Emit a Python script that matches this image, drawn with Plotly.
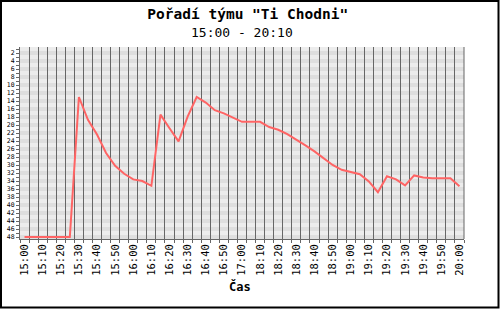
import plotly.graph_objects as go

times = ["15:00","15:05","15:10","15:15","15:20","15:25","15:30","15:35","15:40","15:45",
         "15:50","15:55","16:00","16:05","16:10","16:15","16:20","16:25","16:30","16:35",
         "16:40","16:45","16:50","16:55","17:00","18:05","18:10","18:15","18:20","18:25",
         "18:30","18:35","18:40","18:45","18:50","18:55","19:00","19:05","19:10","19:15",
         "19:20","19:25","19:30","19:35","19:40","19:45","19:50","19:55","20:00"]

rank = [48.0, 48.0, 48.0, 48.0, 48.0, 48.0, 13.0, 18.7, 22.4, 27.0,
        30.2, 32.2, 33.6, 34.0, 35.2, 17.4, 20.8, 24.1, 17.9, 13.0,
        14.4, 16.3, 17.1, 18.2, 19.2, 19.2, 19.2, 20.5, 21.2, 22.3,
        23.6, 25.1, 26.6, 28.2, 30.0, 31.2, 31.8, 32.3, 34.1, 36.8,
        32.8, 33.6, 35.1, 32.6, 33.1, 33.3, 33.3, 33.3, 35.3]

rank_ticks = list(range(1, 49))

title_text = 'Pořadí týmu "Ti Chodni"'
subtitle_text = "15:00 - 20:10"
x_title = "Čas"

W, H = 500, 309
ML, MR, MT, MB = 20, 36, 47, 70
PW, PH = W - ML - MR, H - MT - MB

MONO = "DejaVu Sans Mono"

fig = go.Figure()
fig.add_trace(go.Scatter(
    x=times, y=rank, mode="lines",
    line=dict(color="#ff6464", width=2),
    hoverinfo="skip", showlegend=False,
))

shapes = []
for r in rank_ticks:
    shapes.append(dict(
        type="rect", xref="paper", yref="y", x0=0, x1=1,
        y0=r - 0.5, y1=r + 0.5, layer="below", line=dict(width=0),
        fillcolor="#ececec" if r % 2 else "#dedede",
    ))
# right edge of plot
shapes.append(dict(type="line", xref="paper", yref="paper", x0=1, x1=1, y0=0, y1=1,
                   line=dict(color="#666666", width=1), layer="above"))
# outer frame of the image
px = lambda v: (v - ML) / PW
py = lambda v: (H - MB - v) / PH
shapes.append(dict(type="rect", xref="paper", yref="paper",
                   x0=px(1), x1=px(498.5), y0=py(1), y1=py(307.5),
                   line=dict(color="black", width=2), layer="above"))

ticktext = [t if i % 2 == 0 else "" for i, t in enumerate(times)]
ytext = [str(v) if v % 2 == 0 else "" for v in rank_ticks]

fig.update_layout(
    width=W, height=H,
    margin=dict(l=ML, r=MR, t=MT, b=MB, pad=0, autoexpand=False),
    paper_bgcolor="white", plot_bgcolor="#ececec",
    font=dict(family=MONO, color="black"),
    shapes=shapes,
    title=dict(text="<b>" + title_text + "</b>", x=px(240), xanchor="center",
               y=1 - 14 / H, yanchor="middle",
               font=dict(family=MONO, size=14.5, color="black")),
    annotations=[dict(text=subtitle_text, xref="paper", yref="paper",
                      x=px(242), y=py(33), xanchor="center", yanchor="middle",
                      showarrow=False, font=dict(family=MONO, size=13, color="black")),
                 dict(text="<b>" + x_title + "</b>", xref="paper", yref="paper",
                      x=px(240), y=py(286), xanchor="center", yanchor="middle",
                      showarrow=False, font=dict(family=MONO, size=12, color="black"))],
    xaxis=dict(
        type="category", categoryorder="array", categoryarray=times,
        range=[-0.5, len(times) - 0.5], automargin=False,
        tickmode="array", tickvals=times, ticktext=ticktext,
        tickson="boundaries", tickangle=-90,
        ticks="outside", ticklen=3, tickcolor="#666666",
        showgrid=True, gridcolor="#666666", gridwidth=1,
        showline=True, linecolor="#666666", linewidth=1,
        tickfont=dict(family=MONO, size=10.5, color="black"),
        zeroline=False, fixedrange=True,
    ),
    yaxis=dict(
        range=[48.5, 0.5], automargin=False,
        tickmode="array", tickvals=rank_ticks, ticktext=ytext,
        ticks="outside", ticklen=3, tickcolor="#666666",
        showgrid=False, zeroline=False,
        showline=True, linecolor="#666666", linewidth=1,
        tickfont=dict(family=MONO, size=6.5, color="black"),
        fixedrange=True,
    ),
)

fig.write_html("out.html")
